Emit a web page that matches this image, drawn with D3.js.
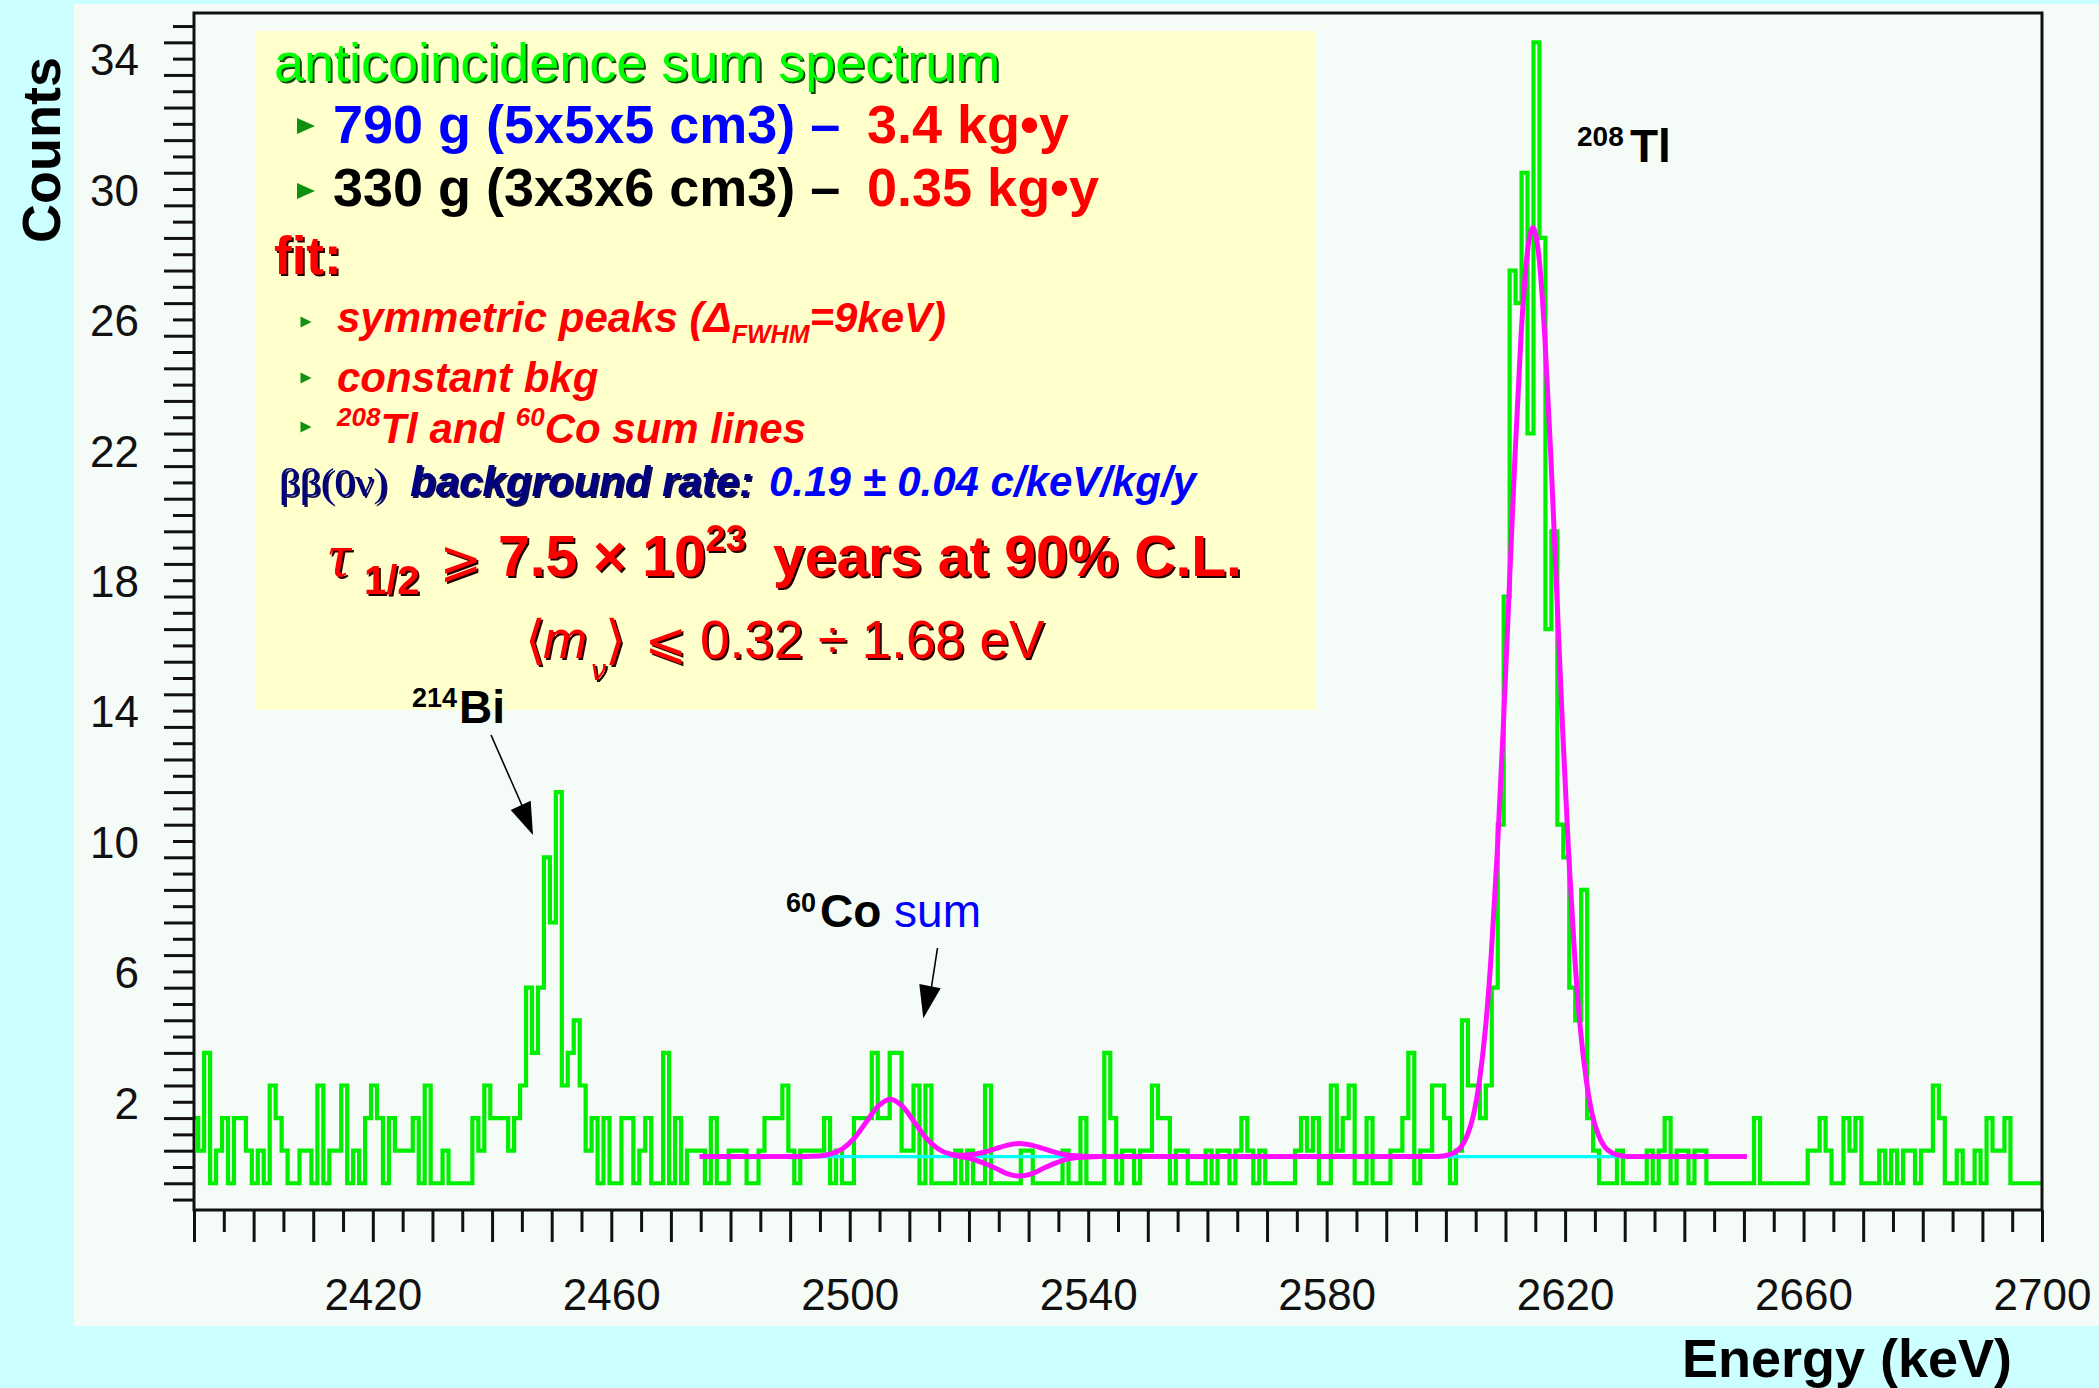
<!DOCTYPE html>
<html>
<head>
<meta charset="utf-8">
<script src="https://cdn.jsdelivr.net/npm/d3@7"></script>
<style>
  html, body { margin: 0; padding: 0; background: #ccffff; }
  svg { display: block; font-family: "Liberation Sans", Arial, sans-serif; }
  text { white-space: pre; }
</style>
</head>
<body>
<svg width="2099" height="1388"></svg>
<script>
// 1 keV bins, first bin edge at 2389.7 keV
const binStart = 2389.7;
const counts = [
  2,1,4,0,1,2,0,2,2,1,   0,1,0,3,2,1,0,0,1,1,   0,3,0,1,1,3,0,1,0,2,
  3,2,0,2,1,1,1,2,0,3,   0,0,1,0,0,0,0,2,1,3,   2,2,2,1,2,3,6,4,6,10,
  8,12,3,4,5,3,1,2,0,2,  0,0,2,2,0,1,2,0,0,4,   0,2,0,1,1,1,0,2,0,0,
  1,1,1,0,0,1,2,2,2,3,   1,0,1,1,1,1,2,0,1,0,   0,2,2,2,4,2,2,4,4,1,
  1,3,0,3,0,0,0,0,1,0,   1,0,0,3,0,0,0,0,0,1,   1,0,0,0,0,0,1,0,0,2,
  0,0,0,4,2,0,1,1,0,1,   1,3,2,2,0,1,1,0,0,0,   1,0,1,1,0,1,2,1,0,1,
  0,0,0,0,0,1,2,1,2,0,   0,3,1,2,3,0,0,2,0,0,   0,1,1,2,4,0,1,1,3,3,
  2,0,1,5,3,3,2,3,6,11,  18,28,27,31,23,35,29,17,20,11,
  10,6,5,9,2,1,0,0,0,1,  0,0,0,0,1,0,1,2,0,1,   1,0,1,1,0,0,0,0,0,0,
  0,0,2,0,0,0,0,0,0,0,   0,1,1,2,1,0,0,2,1,2,   0,0,0,1,0,1,0,1,1,0,
  1,1,3,2,0,0,1,0,0,1,   0,2,1,1,2,0,0,0,0,0
];

// fit curve
const fitE = [2474.8, 2490, 2494.8, 2496.8, 2498.8, 2500.8, 2502.8, 2504.8, 2506.8, 2508.8,
  2510.8, 2512.8, 2514.8, 2516.8, 2518.5, 2520.5, 2522.5, 2524.5, 2526.5, 2528.5,
  2530.5, 2532.5, 2534.5, 2536.5, 2538.5, 2542, 2590, 2598.6, 2600.6, 2602.6,
  2603.6, 2604.6, 2605.6, 2606.6, 2607.6, 2608.6, 2609.6, 2610.6, 2611.6, 2612.6,
  2613.6, 2614.6, 2615.6, 2616.6, 2617.6, 2618.6, 2619.6, 2620.6, 2621.6, 2622.6,
  2623.6, 2624.6, 2625.6, 2626.6, 2628.6, 2630.6, 2650.5];
const fitC = [0.82, 0.82, 0.84, 0.90, 1.06, 1.39, 1.89, 2.37, 2.58, 2.37,
  1.89, 1.39, 1.06, 0.90, 0.86, 0.88, 0.95, 1.06, 1.17, 1.22,
  1.17, 1.06, 0.95, 0.87, 0.84, 0.82, 0.82, 0.82, 0.88, 1.13,
  1.48, 2.07, 3.10, 4.67, 6.98, 10.08, 13.87, 18.12, 22.34, 25.96,
  28.44, 29.32, 28.44, 25.96, 22.34, 18.12, 13.87, 10.08, 6.98, 4.67,
  3.10, 2.07, 1.48, 1.13, 0.88, 0.82, 0.82];
// second fit variant (negative signal at Q-value)
const dipE = [2516.8, 2518.5, 2520.5, 2522.5, 2524.5, 2526.5, 2528.5, 2530.5, 2532.5, 2534.5, 2536.5, 2538.5, 2542];
const dipC = [0.89, 0.82, 0.745, 0.62, 0.46, 0.29, 0.22, 0.29, 0.46, 0.62, 0.74, 0.79, 0.82];

const bkgLevel = 0.82;
const bkgRange = [2474.8, 2650.5];

const xTickLabels = [2420, 2460, 2500, 2540, 2580, 2620, 2660, 2700];
const yTickLabels = [2, 6, 10, 14, 18, 22, 26, 30, 34];

const svg = d3.select("svg");

// drop shadows for the text box lines
const defs = svg.append("defs");
[["sh-dark", "#200000"], ["sh-green", "#0b4a0b"], ["sh-navy", "#101050"]].forEach(([id, col]) => {
  defs.append("filter").attr("id", id).attr("x", "-5%").attr("y", "-20%")
    .attr("width", "110%").attr("height", "140%")
    .append("feDropShadow").attr("dx", 2).attr("dy", 2).attr("stdDeviation", 0)
    .attr("flood-color", col).attr("flood-opacity", 1);
});

// light panel behind the plot
svg.append("rect").attr("x", 74).attr("y", 4).attr("width", 2025).attr("height", 1322)
  .attr("fill", "#f5fbf7");

// plot frame
const L = 194, R = 2042, T = 13, B = 1210;
const x = d3.scaleLinear().domain([2390, 2700]).range([L, R]);
const y = d3.scaleLinear().domain([-0.82, 35.9]).range([B, T]);

// text box
svg.append("rect").attr("x", 255).attr("y", 31).attr("width", 1061).attr("height", 679)
  .attr("fill", "#ffffcc");

svg.append("clipPath").attr("id", "plotclip")
  .append("rect").attr("x", L).attr("y", T).attr("width", R - L).attr("height", B - T);

const plot = svg.append("g").attr("clip-path", "url(#plotclip)");

// histogram
const histPts = counts.map((c, i) => [binStart + i, c]);
histPts.push([2700.5, counts[counts.length - 1]]);
plot.append("path")
  .attr("d", d3.line().x(d => x(d[0])).y(d => y(d[1])).curve(d3.curveStepAfter)(histPts))
  .attr("fill", "none").attr("stroke", "#00ee00").attr("stroke-width", 4.2);

// constant background
plot.append("path")
  .attr("d", d3.line().x(d => x(d)).y(() => y(bkgLevel))(bkgRange))
  .attr("fill", "none").attr("stroke", "#00ffff").attr("stroke-width", 3.2);

// fit curves
const fitLine = d3.line().x(d => x(d[0])).y(d => y(d[1])).curve(d3.curveMonotoneX);
plot.append("path")
  .attr("d", fitLine(dipE.map((e, i) => [e, dipC[i]])))
  .attr("fill", "none").attr("stroke", "#ff10ff").attr("stroke-width", 5);
plot.append("path")
  .attr("d", fitLine(fitE.map((e, i) => [e, fitC[i]])))
  .attr("fill", "none").attr("stroke", "#ff10ff").attr("stroke-width", 5);

// frame
svg.append("rect").attr("x", L).attr("y", T).attr("width", R - L).attr("height", B - T)
  .attr("fill", "none").attr("stroke", "#111").attr("stroke-width", 3);

// x ticks: long every 10 keV, short every 5 keV
const xt = d3.range(2390, 2701, 5);
[[xt.filter(v => v % 10 === 0), 32], [xt.filter(v => v % 10 !== 0), 22]].forEach(([vals, len]) => {
  const g = svg.append("g").attr("transform", `translate(0,${B})`)
    .call(d3.axisBottom(x).tickValues(vals).tickSize(len).tickFormat(""));
  g.select(".domain").remove();
  g.selectAll("line").attr("stroke", "#111").attr("stroke-width", 3);
});
const xLab = svg.append("g").attr("transform", `translate(0,${B})`)
  .call(d3.axisBottom(x).tickValues(xTickLabels).tickSize(0).tickFormat(d3.format("d")));
xLab.select(".domain").remove();
xLab.selectAll("text").attr("y", 100).attr("dy", null)
  .attr("font-size", 44).attr("font-family", "Liberation Sans").attr("fill", "#111");

// y ticks: long at integers, short at halves
const yt = d3.range(-0.5, 35.6, 0.5);
[[yt.filter(v => v % 1 === 0), 30], [yt.filter(v => v % 1 !== 0), 21]].forEach(([vals, len]) => {
  const g = svg.append("g").attr("transform", `translate(${L},0)`)
    .call(d3.axisLeft(y).tickValues(vals).tickSize(len).tickFormat(""));
  g.select(".domain").remove();
  g.selectAll("line").attr("stroke", "#111").attr("stroke-width", 3);
});
const yLab = svg.append("g").attr("transform", `translate(${L},0)`)
  .call(d3.axisLeft(y).tickValues(yTickLabels).tickSize(0));
yLab.select(".domain").remove();
yLab.selectAll("text").attr("x", -55).attr("dy", null)
  .attr("font-size", 44).attr("font-family", "Liberation Sans").attr("fill", "#111");

// axis titles
svg.append("text").attr("transform", "translate(60,150) rotate(-90)")
  .attr("text-anchor", "middle").attr("font-size", 54).attr("font-weight", "bold")
  .attr("fill", "#000").text("Counts");
svg.append("text").attr("x", 2012).attr("y", 1377).attr("text-anchor", "end")
  .attr("font-size", 54).attr("font-weight", "bold").attr("fill", "#000").text("Energy (keV)");

// rich text helper: parts may carry their own x / dy
function rich(x0, y0, parts, shadow) {
  const t = svg.append("text").attr("x", x0).attr("y", y0);
  if (shadow) t.attr("filter", `url(#${shadow})`);
  parts.forEach(p => {
    const s = t.append("tspan").text(p.t)
      .attr("fill", p.fill || "#000")
      .attr("font-size", p.size)
      .attr("font-weight", p.weight || "normal")
      .attr("font-style", p.style || "normal");
    if (p.family) s.attr("font-family", p.family);
    if (p.x !== undefined) s.attr("x", p.x);
    if (p.dy) s.attr("dy", p.dy);
  });
}

function bullet(cx, cy, w, h) {
  svg.append("path")
    .attr("d", `M${cx - w / 2},${cy - h / 2}L${cx + w / 2},${cy}L${cx - w / 2},${cy + h / 2}Z`)
    .attr("fill", "#109010");
}

const RED = "#ff0000", BLUE = "#0000ff", NAVY = "#000080";

rich(274, 81, [{t: "anticoincidence sum spectrum", fill: "#00ff00", size: 54}], "sh-green");

bullet(306, 126, 18, 16);
rich(333, 143, [
  {t: "790 g (5x5x5 cm3) –", fill: BLUE, size: 54, weight: "bold"},
  {t: "3.4 kg•y", fill: RED, size: 54, weight: "bold", x: 867}
]);
bullet(306, 191, 18, 16);
rich(333, 206, [
  {t: "330 g (3x3x6 cm3) –", fill: "#000", size: 54, weight: "bold"},
  {t: "0.35 kg•y", fill: RED, size: 54, weight: "bold", x: 867}
]);

rich(274, 274, [{t: "fit:", fill: RED, size: 53, weight: "bold"}], "sh-dark");

const it = {fill: RED, weight: "bold", style: "italic"};
bullet(306, 322, 11, 11);
rich(337, 332, [
  {...it, t: "symmetric peaks (Δ", size: 42},
  {...it, t: "FWHM", size: 25, dy: 11},
  {...it, t: "=9keV)", size: 42, dy: -11}
]);
bullet(306, 378, 11, 11);
rich(337, 392, [{...it, t: "constant bkg", size: 42}]);
bullet(306, 427, 11, 11);
rich(337, 443, [
  {...it, t: "208", size: 26, dy: -17},
  {...it, t: "Tl and ", size: 42, dy: 17},
  {...it, t: "60", size: 26, dy: -17},
  {...it, t: "Co sum lines", size: 42, dy: 17}
]);

rich(279, 496, [
  {t: "ββ(0ν)", fill: NAVY, size: 41, family: "Liberation Serif"},
  {t: "background rate:", fill: NAVY, size: 42, weight: "bold", style: "italic", x: 410}
], "sh-navy");
rich(769, 496, [{t: "0.19 ± 0.04 c/keV/kg/y", fill: BLUE, size: 42, weight: "bold", style: "italic"}]);

rich(328, 576, [
  {t: "τ", fill: RED, size: 62, style: "italic", family: "Liberation Serif"},
  {t: "1/2", fill: RED, size: 40, weight: "bold", x: 364, dy: 18},
  {t: "⩾", fill: RED, size: 50, family: "DejaVu Sans", x: 440, dy: -18},
  {t: "7.5 × 10", fill: RED, size: 57, weight: "bold", x: 498},
  {t: "23", fill: RED, size: 36, weight: "bold", dy: -25},
  {t: "years at 90% C.L.", fill: RED, size: 57, weight: "bold", x: 773, dy: 25}
], "sh-dark");

rich(525, 658, [
  {t: "⟨", fill: RED, size: 53, family: "DejaVu Sans"},
  {t: "m", fill: RED, size: 53, style: "italic", x: 543},
  {t: "ν", fill: RED, size: 30, style: "italic", x: 591, dy: 22},
  {t: "⟩", fill: RED, size: 53, family: "DejaVu Sans", x: 605, dy: -22},
  {t: "⩽", fill: RED, size: 50, family: "DejaVu Sans", x: 645},
  {t: "0.32 ÷ 1.68 eV", fill: RED, size: 53, x: 700}
], "sh-dark");

// peak annotations
rich(412, 707, [{t: "214", size: 27, weight: "bold"}]);
rich(459, 723, [{t: "Bi", size: 46, weight: "bold"}]);
rich(786, 912, [{t: "60", size: 27, weight: "bold"}]);
rich(820, 927, [{t: "Co", size: 46, weight: "bold"}, {t: " sum", size: 46, fill: BLUE}]);
rich(1577, 146, [{t: "208", size: 28, weight: "bold"}]);
rich(1630, 162, [{t: "Tl", size: 46, weight: "bold"}]);

// arrows
function arrow(x1, y1, x2, y2, tip, c1, c2) {
  svg.append("line").attr("x1", x1).attr("y1", y1).attr("x2", x2).attr("y2", y2)
    .attr("stroke", "#000").attr("stroke-width", 1.6);
  svg.append("path").attr("d", `M${tip}L${c1}L${c2}Z`).attr("fill", "#000");
}
arrow(491, 735, 524, 810, [533, 835], [510.7, 810], [530.7, 800.7]);
arrow(937.5, 948, 931, 990, [923.3, 1018.3], [919.3, 984], [940.7, 988.3]);
</script>
</body>
</html>
